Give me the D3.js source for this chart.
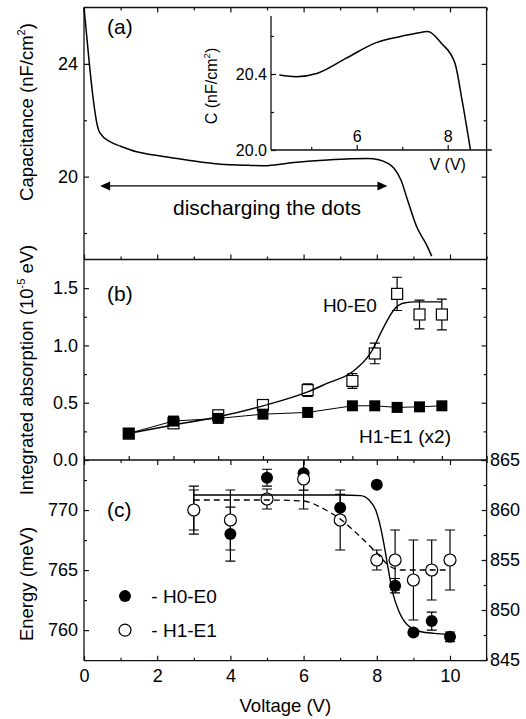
<!DOCTYPE html>
<html>
<head>
<meta charset="utf-8">
<script src="https://cdn.jsdelivr.net/npm/d3@7"></script>
<style>
body { margin: 0; background: #fff; }
text { font-family: "Liberation Sans", Arial, sans-serif; fill: #000; }
</style>
</head>
<body>
<svg id="chart" width="526" height="719"></svg>
<script>

// (a) capacitance vs voltage
var capV = [0, 0.145, 0.255, 0.35, 0.44, 0.71, 1.0, 1.44, 2.08, 2.81, 3.73, 4.5, 4.9, 5.73, 6.65, 7.3, 7.75, 8.05, 8.29, 8.47, 8.66, 8.84, 9.09, 9.36, 9.5];
var capC = [26.0, 24.02, 22.72, 21.9, 21.54, 21.24, 21.08, 20.88, 20.73, 20.59, 20.44, 20.40, 20.39, 20.5, 20.59, 20.63, 20.64, 20.6, 20.48, 20.3, 19.88, 19.17, 18.22, 17.58, 17.18];

// (a) inset
var insetV = [4.3, 4.67, 5.14, 5.77, 6.43, 6.94, 7.31, 7.56, 7.86, 8.16, 8.31, 8.5];
var insetC = [20.395, 20.386, 20.404, 20.483, 20.565, 20.596, 20.614, 20.623, 20.562, 20.456, 20.27, 20.0];

// (b) integrated absorption (own x scale, 0..9)
var absX = [1, 2, 3, 4, 5, 6, 6.5, 7, 7.5, 8];
var absH0 = [0.23, 0.32, 0.39, 0.48, 0.61, 0.69, 0.93, 1.45, 1.27, 1.27];
var absH0Err = [0, 0, 0, 0, 0.055, 0.065, 0.09, 0.145, 0.125, 0.135];
var absH1 = [0.232, 0.34, 0.363, 0.40, 0.415, 0.473, 0.473, 0.459, 0.464, 0.473];
var absFitX = [1, 2, 3, 4, 5, 5.43, 6.0, 6.4, 6.7, 6.92, 7.15, 7.4, 8];
var absFitY = [0.232, 0.305, 0.377, 0.473, 0.595, 0.668, 0.77, 0.93, 1.16, 1.307, 1.37, 1.38, 1.38];

// (c) transition energies
var enV = [3, 4, 5, 6, 7, 8, 8.5, 9, 9.5, 10];
var enH0 = [770.0, 768.0, 772.7, 773.06, 770.2, 772.1, 763.7, 759.8, 760.75, 759.44];
var enH0Err = [2.0, 2.25, 0.7, 1.4, 1.1, 0, 0.6, 0, 0.75, 0.4];
var enH1 = [860.0, 859.0, 861.1, 863.1, 859.0, 855.0, 855.0, 853.0, 854.0, 855.0];
var enH1Err = [2.0, 3.0, 1.0, 3.0, 3.0, 1.0, 3.0, 4.0, 3.0, 3.0];
var fitH0V = [3, 5, 7, 7.56, 7.79, 7.97, 8.11, 8.2, 8.31, 8.43, 8.61, 8.84, 9.21, 9.57, 10];
var fitH0E = [771.25, 771.25, 771.25, 771.2, 770.83, 770.0, 768.47, 767.08, 765.14, 763.19, 761.53, 760.42, 759.86, 759.73, 759.64];
var fitH1V = [3, 5, 6, 6.5, 7, 7.5, 8, 8.35, 8.7, 10];
var fitH1E = [861.0, 861.0, 860.9, 860.2, 859.1, 857.5, 855.7, 854.4, 854.0, 854.0];

// tick values
var ticksV = d3.range(0, 12, 1);
var ticksVLab = [0, 2, 4, 6, 8, 10];
var ticksB = d3.range(0, 10, 1);
var capMajor = [20, 24], capMinor = [18, 22];
var absMajor = [0, 0.5, 1.0, 1.5], absMinor = [0.25, 0.75, 1.25];
var enLMajor = [760, 765, 770], enLMinor = [762.5, 767.5, 772.5];
var enRMajor = [845, 850, 855, 860, 865], enRMinor = [847.5, 852.5, 857.5, 862.5];
var inMajorX = [6, 8], inMinorX = [5, 7];
var inMajorY = [20.0, 20.4], inMinorY = [20.2, 20.6];

var svg = d3.select("#chart");
var left = 84, right = 486.6;
var aTop = 7.5, aBot = 259.5, bBot = 460, cBot = 660.7;
var ink = "#111";

var x = d3.scaleLinear().domain([0, 11]).range([left, right]);
var xB = d3.scaleLinear().domain([0, 9]).range([left, right]);
var yA = d3.scaleLinear().domain([17.06, 26.0]).range([aBot, aTop]);
var yB = d3.scaleLinear().domain([0, 1.75]).range([bBot, aBot]);
var yCL = d3.scaleLinear().domain([757.45, 774.17]).range([cBot, bBot]);
var yCR = d3.scaleLinear().domain([844.93, 865]).range([cBot, bBot]);
var xi = d3.scaleLinear().domain([4.116, 8.967]).range([271, 491.7]);
var yi = d3.scaleLinear().domain([20.0, 20.705]).range([150, 16]);

function axis(gen, scale, tx, ty, vals, size, fmt, pad, fs) {
	var a = gen(scale).tickValues(vals).tickSize(size).tickSizeOuter(0).tickPadding(pad || 5)
		.tickFormat(fmt || "");
	var g = svg.append("g").attr("transform", "translate(" + tx + "," + ty + ")").call(a);
	g.attr("font-family", null).attr("font-size", null);
	g.select(".domain").remove();
	g.selectAll("line").attr("stroke", ink).attr("stroke-width", 1.2);
	g.selectAll("text").attr("font-size", fs || 18).attr("fill", "#000");
	return g;
}

// ---- frames
var frame = svg.append("g").attr("stroke", ink).attr("stroke-width", 1.3).attr("fill", "none");
frame.append("line").attr("x1", left).attr("x2", left).attr("y1", aTop).attr("y2", cBot);
frame.append("line").attr("x1", right).attr("x2", right).attr("y1", aTop).attr("y2", cBot);
[aTop, aBot, bBot, cBot].forEach(function(yy){
	frame.append("line").attr("x1", left).attr("x2", right).attr("y1", yy).attr("y2", yy);
});

// ---- panel (a) axes
axis(d3.axisTop, x, 0, aTop, ticksV.filter(function(d){return d%2==0;}), -5);
axis(d3.axisTop, x, 0, aTop, ticksV.filter(function(d){return d%2==1;}), -3);
axis(d3.axisBottom, x, 0, aBot, ticksV.filter(function(d){return d%2==0;}), -5);
axis(d3.axisBottom, x, 0, aBot, ticksV.filter(function(d){return d%2==1;}), -3);
axis(d3.axisLeft, yA, left, 0, capMajor, -5, d3.format("d"), 6);
axis(d3.axisLeft, yA, left, 0, capMinor, -3);
axis(d3.axisRight, yA, right, 0, capMajor, -5);
axis(d3.axisRight, yA, right, 0, capMinor, -3);

// ---- panel (b) axes
axis(d3.axisBottom, xB, 0, bBot, ticksB, -4);
axis(d3.axisLeft, yB, left, 0, absMajor, -5, d3.format(".1f"), 6);
axis(d3.axisLeft, yB, left, 0, absMinor, -3);
axis(d3.axisRight, yB, right, 0, absMajor, -5);
axis(d3.axisRight, yB, right, 0, absMinor, -3);

// ---- panel (c) axes
axis(d3.axisTop, x, 0, bBot, ticksV.filter(function(d){return d%2==0;}), -5);
axis(d3.axisTop, x, 0, bBot, ticksV.filter(function(d){return d%2==1;}), -3);
axis(d3.axisBottom, x, 0, cBot, ticksVLab, -5, d3.format("d"), 8.5);
axis(d3.axisBottom, x, 0, cBot, ticksV.filter(function(d){return d%2==1;}), -3);
axis(d3.axisLeft, yCL, left, 0, enLMajor, -5, d3.format("d"), 6);
axis(d3.axisLeft, yCL, left, 0, enLMinor, -3);
axis(d3.axisRight, yCR, right, 0, enRMajor, -5, d3.format("d"), 3.5);
axis(d3.axisRight, yCR, right, 0, enRMinor, -3);

// ---- inset axes
var inset = svg.append("g").attr("stroke", ink).attr("stroke-width", 1.3);
inset.append("line").attr("x1", xi.range()[0]).attr("x2", xi.range()[0]).attr("y1", yi.range()[1]).attr("y2", yi.range()[0]);
inset.append("line").attr("x1", xi.range()[0]).attr("x2", xi.range()[1]).attr("y1", yi.range()[0]).attr("y2", yi.range()[0]);
axis(d3.axisLeft, yi, xi.range()[0], 0, inMajorY, -5, d3.format(".1f"), 4, 16);
axis(d3.axisLeft, yi, xi.range()[0], 0, inMinorY, -3);
axis(d3.axisTop, xi, 0, yi.range()[0], inMajorX, 5, d3.format("d"), 3, 16);
axis(d3.axisTop, xi, 0, yi.range()[0], inMinorX, 3);

// ---- axis titles
function vtitle(cx, cy, parts, fs) {
	var t = svg.append("text").attr("transform", "translate(" + cx + "," + cy + ") rotate(-90)")
		.attr("text-anchor", "middle").attr("font-size", fs);
	parts.forEach(function(p){
		var s = t.append("tspan").text(p[0]);
		if (p[1] == "sup") s.attr("font-size", fs * 0.6).attr("dy", -fs * 0.42);
		if (p[1] == "down") s.attr("dy", fs * 0.42);
	});
	return t;
}
vtitle(33, 112, [["Capacitance (nF/cm"], ["2", "sup"], [")", "down"]], 18.5);
vtitle(33, 370, [["Integrated absorption (10"], ["-5", "sup"], [" eV)", "down"]], 18.5);
vtitle(33, 584, [["Energy (meV)"]], 18.5);
vtitle(216.5, 86, [["C (nF/cm"], ["2", "sup"], [")", "down"]], 16);

svg.append("text").attr("x", x(5.5)).attr("y", 712).attr("text-anchor", "middle")
	.attr("font-size", 18.5).text("Voltage (V)");
svg.append("text").attr("x", xi(8.0)).attr("y", 170).attr("text-anchor", "middle")
	.attr("font-size", 16).text("V (V)");

// ---- panel (a) curves
var lineA = d3.line().x(function(d){ return x(d[0]); }).y(function(d){ return yA(d[1]); }).curve(d3.curveMonotoneX);
svg.append("path").datum(d3.zip(capV, capC)).attr("d", lineA)
	.attr("fill", "none").attr("stroke", "#000").attr("stroke-width", 1.5);

var lineI = d3.line().x(function(d){ return xi(d[0]); }).y(function(d){ return yi(d[1]); }).curve(d3.curveMonotoneX);
svg.append("path").datum(d3.zip(insetV, insetC)).attr("d", lineI)
	.attr("fill", "none").attr("stroke", "#000").attr("stroke-width", 1.5);

// arrow
var arrY = yA(19.67), ax1 = x(0.44), ax2 = x(8.29);
svg.append("line").attr("x1", ax1 + 6).attr("x2", ax2 - 6).attr("y1", arrY).attr("y2", arrY)
	.attr("stroke", "#000").attr("stroke-width", 1.3);
svg.append("path").attr("d", "M" + ax1 + "," + arrY + "l10,-4.5v9z").attr("fill", "#000");
svg.append("path").attr("d", "M" + ax2 + "," + arrY + "l-10,-4.5v9z").attr("fill", "#000");
svg.append("text").attr("x", x(5.0)).attr("y", yA(18.64)).attr("text-anchor", "middle")
	.attr("font-size", 21).text("discharging the dots");
svg.append("text").attr("x", x(0.63)).attr("y", yA(25.05)).attr("font-size", 21).text("(a)");

// ---- panel (b)
var gb = svg.append("g");
absX.forEach(function(v, i){
	var e = absH0Err[i];
	if (!e) return;
	var cx = xB(v);
	gb.append("path").attr("d",
		"M" + cx + "," + yB(absH0[i] - e) + "V" + yB(absH0[i] + e) +
		"M" + (cx - 5) + "," + yB(absH0[i] - e) + "h10" +
		"M" + (cx - 5) + "," + yB(absH0[i] + e) + "h10")
		.attr("stroke", "#000").attr("stroke-width", 1.2).attr("fill", "none");
});
var sq = 11;
gb.selectAll("rect.h0").data(d3.zip(absX, absH0)).enter().append("rect")
	.attr("x", function(d){ return xB(d[0]) - sq/2; })
	.attr("y", function(d){ return yB(d[1]) - sq/2; })
	.attr("width", sq).attr("height", sq)
	.attr("fill", "#fff").attr("stroke", "#000").attr("stroke-width", 1.2);
gb.selectAll("rect.h1").data(d3.zip(absX, absH1)).enter().append("rect")
	.attr("x", function(d){ return xB(d[0]) - sq/2; })
	.attr("y", function(d){ return yB(d[1]) - sq/2; })
	.attr("width", sq).attr("height", sq).attr("fill", "#000");
var lineB = d3.line().x(function(d){ return xB(d[0]); }).y(function(d){ return yB(d[1]); });
gb.append("path").datum(d3.zip(absFitX, absFitY)).attr("d", lineB.curve(d3.curveMonotoneX))
	.attr("fill", "none").attr("stroke", "#000").attr("stroke-width", 1.4);
gb.append("path").datum(d3.zip(absX, absH1)).attr("d", lineB.curve(d3.curveLinear))
	.attr("fill", "none").attr("stroke", "#000").attr("stroke-width", 1);
svg.append("text").attr("x", xB(5.34)).attr("y", yB(1.291)).attr("font-size", 19).text("H0-E0");
svg.append("text").attr("x", xB(6.15)).attr("y", yB(0.151)).attr("font-size", 19).text("H1-E1 (x2)");
svg.append("text").attr("x", x(0.63)).attr("y", yB(1.39)).attr("font-size", 21).text("(b)");

// ---- panel (c)
svg.append("clipPath").attr("id", "clipC").append("rect")
	.attr("x", left).attr("y", bBot).attr("width", right - left).attr("height", cBot - bBot);
var gc = svg.append("g").attr("clip-path", "url(#clipC)");
function errBars(vals, errs, scale) {
	enV.forEach(function(v, i){
		var e = errs[i];
		if (!e) return;
		var cx = x(v);
		gc.append("path").attr("d",
			"M" + cx + "," + scale(vals[i] - e) + "V" + scale(vals[i] + e) +
			"M" + (cx - 5) + "," + scale(vals[i] - e) + "h10" +
			"M" + (cx - 5) + "," + scale(vals[i] + e) + "h10")
			.attr("stroke", "#000").attr("stroke-width", 1.2).attr("fill", "none");
	});
}
errBars(enH0, enH0Err, yCL);
errBars(enH1, enH1Err, yCR);
gc.selectAll("circle.h0").data(d3.zip(enV, enH0)).enter().append("circle")
	.attr("cx", function(d){ return x(d[0]); }).attr("cy", function(d){ return yCL(d[1]); })
	.attr("r", 6).attr("fill", "#000");
gc.selectAll("circle.h1").data(d3.zip(enV, enH1)).enter().append("circle")
	.attr("cx", function(d){ return x(d[0]); }).attr("cy", function(d){ return yCR(d[1]); })
	.attr("r", 6).attr("fill", "#fff").attr("stroke", "#000").attr("stroke-width", 1.2);
gc.append("path").datum(d3.zip(fitH0V, fitH0E))
	.attr("d", d3.line().x(function(d){ return x(d[0]); }).y(function(d){ return yCL(d[1]); }).curve(d3.curveMonotoneX))
	.attr("fill", "none").attr("stroke", "#000").attr("stroke-width", 1.4);
gc.append("path").datum(d3.zip(fitH1V, fitH1E))
	.attr("d", d3.line().x(function(d){ return x(d[0]); }).y(function(d){ return yCR(d[1]); }).curve(d3.curveMonotoneX))
	.attr("fill", "none").attr("stroke", "#000").attr("stroke-width", 1.3).attr("stroke-dasharray", "6,4");

svg.append("text").attr("x", x(0.63)).attr("y", yCL(769.4)).attr("font-size", 21).text("(c)");

// legend
var legY = [yCL(762.83), yCL(760.0)];
svg.append("circle").attr("cx", x(1.12)).attr("cy", legY[0]).attr("r", 6).attr("fill", "#000");
svg.append("circle").attr("cx", x(1.12)).attr("cy", legY[1]).attr("r", 6)
	.attr("fill", "#fff").attr("stroke", "#000").attr("stroke-width", 1.2);
svg.append("text").attr("x", x(1.84)).attr("y", legY[0] + 7).attr("font-size", 19).text("- H0-E0");
svg.append("text").attr("x", x(1.84)).attr("y", legY[1] + 7).attr("font-size", 19).text("- H1-E1");

</script>
</body>
</html>
